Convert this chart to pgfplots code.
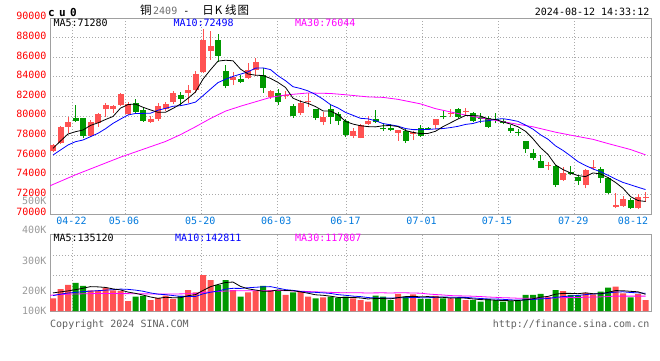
\documentclass[border=0pt]{standalone}
\usepackage{pgfplots}
\pgfplotsset{compat=1.18}
\usepackage{pgfplotstable}
\usepackage{fontspec}
\setmainfont{DejaVu Sans Mono}
\newfontfamily\cjk{Noto Sans CJK SC}
\newfontfamily\cufont[LetterSpace=40]{DejaVu Sans Mono}

\definecolor{cred}{RGB}{255,82,82}
\definecolor{cgreen}{RGB}{0,153,0}
\definecolor{pricered}{RGB}{255,0,0}
\definecolor{dateblue}{RGB}{0,120,220}
\definecolor{gridgray}{RGB}{170,170,170}
\definecolor{bordergray}{RGB}{160,160,160}
\definecolor{volgray}{RGB}{153,153,153}
\definecolor{txtgray}{RGB}{95,95,95}
\definecolor{ttlgray}{RGB}{110,110,110}
\definecolor{mablue}{RGB}{0,0,255}
\definecolor{mamag}{RGB}{255,0,255}

% i open high low close volume(K)
\pgfplotstableread{
i o h l c v
0 76460 77143 76327 77010 102
1 77276 78980 77143 78908 177
2 78908 79929 78235 79418 210
5 77990 79592 77827 79357 167
6 79255 80337 78908 80204 167
7 80684 81296 79929 81153 188
8 80714 81153 80276 81051 167
9 81153 82378 81020 82245 161
10 80200 81459 80102 81200 80
13 79418 80000 79300 79700 88
14 79694 81300 79500 81051 106
15 80745 81400 80500 81225 123
16 81400 82600 81250 82378 97
18 82310 83160 81300 82650 169
19 82650 84620 82310 84286 151
20 84520 88900 84418 87755 290
21 86660 88670 85715 87170 249
24 83670 84460 83160 84010 169
26 83910 85370 83775 84690 151
27 84690 85885 84110 85540 161
29 81970 82650 81735 82550 169
31 82040 82580 81735 82140 129
33 80340 81630 80100 81290 156
34 81400 82310 80950 81530 115
36 79420 80370 79080 79930 110
40 77990 78745 77720 78470 102
41 77790 79180 77720 79080 88
42 79180 80000 79080 79490 75
46 78300 78600 77480 78570 138
48 78160 78500 77550 78400 134
51 79080 79700 78640 79660 121
53 80240 80680 79865 80340 102
55 80410 80780 80000 80510 88
66 74900 75340 74490 75000 113
68 73470 74760 73400 74220 161
71 72960 74590 72620 74490 147
72 74660 75510 74490 74830 134
75 70750 72170 70580 70920 197
76 70820 71840 70750 71500 142
78 70580 72000 70500 71700 138
79 71600 72275 71250 71700 88
}\redtab

\pgfplotstableread{
i o h l c v
3 79765 81122 79418 79520 226
4 79765 79796 77724 77990 202
11 81296 81704 80337 80439 115
12 80612 80816 79418 79520 121
17 82143 82480 81050 81735 121
22 87755 88340 85540 86150 210
23 84590 85200 82830 83090 249
25 83775 84180 83330 83500 115
28 84180 84930 82380 82900 202
30 82310 82750 81120 81460 167
32 81020 81220 79830 80030 151
35 80680 80700 79590 79830 102
37 80680 81190 79180 79930 115
38 80170 80370 79080 79490 106
39 79490 79690 77890 78060 115
43 79660 80610 79320 79355 123
44 78800 79250 78500 78640 115
45 78800 79150 78440 78570 88
47 78470 78640 77280 77480 115
49 78745 79080 77890 77990 97
50 78770 78910 78570 78670 97
52 80030 80610 79660 79865 102
54 80710 80850 79765 79930 106
56 80340 80440 79420 79520 88
57 79865 80270 79250 79700 75
58 79765 79970 78800 78900 97
59 79690 80340 79250 79590 88
60 79490 79660 79150 79250 75
61 78800 79080 78300 78470 80
62 78400 78640 77960 78300 80
63 77450 77500 76260 76600 129
64 76190 76600 75510 75750 129
65 75410 76020 74660 74725 138
67 74900 75000 72790 72960 169
69 74320 74900 73980 74050 129
70 73810 73980 72960 73370 126
73 74560 74830 73200 73700 156
74 73700 73750 72000 72170 188
77 71430 71600 70500 70580 110
}\greentab

\pgfplotsset{
  sinabase/.style={
    scale only axis, width=601pt,
    xmin=-0.4, xmax=79.733,
    axis line style={draw=bordergray, line width=1pt},
    major tick length=0pt,
    scaled y ticks=false, scaled x ticks=false,
    xmajorgrids, ymajorgrids,
    grid style={draw=gridgray, line width=0.8pt, dash pattern=on 1pt off 2pt},
    xtick={2.6,9.6,19.77,29.9,39.13,49.27,59.33,69.5},
  },
}

\begin{document}
\begin{tikzpicture}[font=\fontsize{10}{12}\selectfont]
\path[use as bounding box] (0pt,0pt) rectangle (660pt,-360pt);

% ---------------- price panel ----------------
\begin{axis}[sinabase,
  at={(50pt,-214pt)}, anchor=south west, height=196pt,
  ymin=70000, ymax=90000,
  ytick={70000,72000,74000,76000,78000,80000,82000,84000,86000,88000,90000},
  yticklabels={70000,72000,74000,76000,78000,80000,82000,84000,86000,88000,90000},
  yticklabel style={text=pricered, anchor=east, inner sep=0pt, xshift=-3.3pt, yshift=1.7pt},
  xticklabels={04-22,05-06,05-20,06-03,06-17,07-01,07-15,07-29},
  xticklabel style={text=dateblue, anchor=north, inner sep=0pt, yshift=-3pt, xshift=-1pt},
  extra x ticks={77.47}, extra x tick labels={08-12},
  extra x tick style={grid=none},
]
% wicks
\addplot[draw=none, forget plot, error bars/.cd, y dir=plus, y explicit, error mark=none,
  error bar style={draw=cred, line width=1pt}]
  table[x=i, y=l, y error plus expr=\thisrow{h}-\thisrow{l}] {\redtab};
\addplot[draw=none, forget plot, error bars/.cd, y dir=plus, y explicit, error mark=none,
  error bar style={draw=cgreen, line width=1pt}]
  table[x=i, y=l, y error plus expr=\thisrow{h}-\thisrow{l}] {\greentab};
% bodies
\addplot[draw=none, forget plot, error bars/.cd, y dir=plus, y explicit, error mark=none,
  error bar style={draw=cred, line width=6pt}]
  table[x=i, y=o, y error plus expr=\thisrow{c}-\thisrow{o}] {\redtab};
\addplot[draw=none, forget plot, error bars/.cd, y dir=plus, y explicit, error mark=none,
  error bar style={draw=cgreen, line width=6pt}]
  table[x=i, y=c, y error plus expr=\thisrow{o}-\thisrow{c}] {\greentab};

% MA30
\addplot[mamag, line width=0.8pt] coordinates {
(-0.4,72880) (3,74000) (6,74900) (9,75800) (12,76600) (15,77400) (17,78100) (19,78900)
(21,79750) (23,80500) (25,81000) (27,81450) (29,81900) (31,82150) (34,82350) (37,82300)
(39,82170) (42,81950) (44,81900) (46,81700) (49,81240) (51,80750) (54,80250) (57,79800)
(59,79550) (62,79150) (64,78900) (67,78350) (69,78050) (72,77620) (74,77190) (77,76580) (79,76040)};
% MA10
\addplot[mablue, line width=0.8pt] coordinates {
(0,76020) (1,76530) (2,77040) (3,77380) (4,77550) (5,77890) (6,78235) (7,78700) (8,79250)
(9,79686) (10,80105) (11,80258) (12,80268) (13,80286) (14,80592) (15,80779) (16,80996)
(17,81054) (18,81214) (19,81418) (20,82074) (21,82747) (22,83410) (23,83749) (24,84045)
(25,84272) (26,84504) (27,84884) (28,84909) (29,84736) (30,84106) (31,83603) (32,82991)
(33,82811) (34,82563) (35,82196) (36,81720) (37,81159) (38,80818) (39,80369) (40,80070)
(41,79764) (42,79710) (43,79517) (44,79228) (45,79102) (46,78966) (47,78721) (48,78612)
(49,78605) (50,78625) (51,78683) (52,78720) (53,78819) (54,78948) (55,79142) (56,79237)
(57,79459) (58,79509) (59,79669) (60,79727) (61,79608) (62,79451) (63,79077) (64,78659)
(65,78081) (66,77629) (67,76955) (68,76487) (69,75933) (70,75345) (71,74947) (72,74600)
(73,74310) (74,73952) (75,73571) (76,73221) (77,72983) (78,72731) (79,72496)};
% MA5
\addplot[black, line width=0.8pt] coordinates {
(0,76700) (1,77450) (2,78160) (3,78400) (4,78569) (5,79039) (6,79298) (7,79645) (8,79951)
(9,80802) (10,81171) (11,81218) (12,80891) (13,80621) (14,80382) (15,80387) (16,80775)
(17,81218) (18,81808) (19,82455) (20,83761) (21,84719) (22,85602) (23,85690) (24,85635)
(25,84784) (26,84288) (27,84166) (28,84128) (29,83836) (30,83428) (31,82918) (32,81816)
(33,81494) (34,81290) (35,80964) (36,80522) (37,80502) (38,80142) (39,79448) (40,79176)
(41,79006) (42,78918) (43,78891) (44,79007) (45,79027) (46,78925) (47,78523) (48,78332)
(49,78202) (50,78222) (51,78440) (52,78917) (53,79305) (54,79693) (55,80061) (56,80033)
(57,80000) (58,79712) (59,79644) (60,79392) (61,79182) (62,78902) (63,78442) (64,77674)
(65,76769) (66,76075) (67,75007) (68,74531) (69,74191) (70,73920) (71,73818) (72,74192)
(73,74088) (74,73712) (75,73222) (76,72624) (77,71774) (78,71374) (79,71280)};
\end{axis}

% ---------------- volume panel ----------------
\begin{axis}[sinabase,
  at={(50pt,-311pt)}, anchor=south west, height=76.7pt,
  ymin=0, ymax=618,
  ytick={290.2,445.7}, yticklabels={},
  xticklabels={},
]
\addplot[ybar, bar width=6pt, bar shift=0pt, fill=cred, draw=none, forget plot]
  table[x=i, y=v] {\redtab};
\addplot[ybar, bar width=6pt, bar shift=0pt, fill=cgreen, draw=none, forget plot]
  table[x=i, y=v] {\greentab};
% MA30 vol
\addplot[mamag, line width=0.8pt] coordinates {
(-0.4,127) (2,136) (6,141) (10,140) (15,136) (19,140) (20,150) (22,158) (24,163) (27,163)
(29,163.4) (30,165.6) (31,164) (32,162) (33,159.7) (34,156.8) (35,154.6) (36,152.7)
(37,150.3) (38,148.3) (39,146.7) (40,147.5) (41,146.6) (42,145) (43,146.2) (44,146.5)
(45,145.3) (46,146.7) (47,146.5) (48,145.3) (49,143.5) (50,137.1) (51,132.8) (52,129.2)
(53,124.3) (54,122.2) (55,121.3) (56,119.2) (57,116.4) (58,112.9) (59,110.2) (60,107.1)
(61,105.5) (62,103.1) (63,102.2) (64,102.7) (65,103.9) (66,104) (67,105.8) (68,107.6)
(69,108.1) (70,108.9) (71,110.8) (72,112.8) (73,113.9) (74,116.3) (75,120) (76,120.1)
(77,119.9) (78,120.1) (79,119.8)};
% MA10 vol
\addplot[mablue, line width=0.8pt] coordinates {
(0,124) (1,136) (2,145) (3,150) (4,156) (5,160) (6,164) (7,168) (8,172) (9,176.7)
(10,174.5) (11,168.3) (12,159.4) (13,145.6) (14,136) (15,131.6) (16,124.6) (17,117.9)
(18,118.1) (19,117.1) (20,138.1) (21,151.5) (22,160.4) (23,176.5) (24,182.8) (25,182)
(26,187.4) (27,191.4) (28,194.7) (29,196.5) (30,184.2) (31,172.2) (32,166.3) (33,157)
(34,151.6) (35,150.3) (36,146.2) (37,141.6) (38,132) (39,126.6) (40,120.1) (41,116)
(42,108.4) (43,105.1) (44,105.1) (45,103.7) (46,106.5) (47,106.5) (48,109.3) (49,107.5)
(50,107) (51,110.3) (52,113) (53,110.9) (54,110) (55,110) (56,105) (57,101) (58,97.3)
(59,96.4) (60,94.2) (61,90.1) (62,87.9) (63,90.6) (64,92.9) (65,97.9) (66,100.4)
(67,109.8) (68,116.2) (69,120.3) (70,125.4) (71,132.1) (72,137.5) (73,140.2) (74,146.1)
(75,152) (76,154.9) (77,149) (78,146.7) (79,142.6)};
% MA5 vol
\addplot[black, line width=0.8pt] coordinates {
(0,146) (1,154) (2,162) (3,172) (4,183.4) (5,196.4) (6,194.4) (7,190) (8,178.2) (9,170)
(10,152.6) (11,142.2) (12,128.8) (13,113) (14,102) (15,110.6) (16,107) (17,107) (18,123.2)
(19,132.2) (20,165.6) (21,196) (22,213.8) (23,229.8) (24,233.4) (25,198.4) (26,178.8)
(27,169) (28,159.6) (29,159.6) (30,170) (31,165.6) (32,163.6) (33,154.4) (34,143.6)
(35,130.6) (36,126.8) (37,119.6) (38,109.6) (39,109.6) (40,109.6) (41,105.2) (42,97.2)
(43,100.6) (44,100.6) (45,97.8) (46,107.8) (47,115.8) (48,118) (49,114.4) (50,116.2)
(51,112.8) (52,110.2) (53,103.8) (54,105.6) (55,103.8) (56,97.2) (57,91.8) (58,90.8)
(59,87.2) (60,84.6) (61,83) (62,84) (63,90.4) (64,98.6) (65,111.2) (66,117.8) (67,135.6)
(68,142) (69,142) (70,139.6) (71,146.4) (72,139.4) (73,138.4) (74,150.2) (75,164.4)
(76,163.4) (77,158.6) (78,155) (79,135)};
\end{axis}

% ---------------- texts ----------------
\node[anchor=base west, inner sep=0pt] at (48pt,-16pt) {\cufont\bfseries\fontsize{11}{13}\selectfont cu0};
\node[anchor=base west, inner sep=0pt] at (140pt,-14.5pt)
  {{\cjk\fontsize{11.5}{13}\selectfont 铜}\hspace{1.5pt}{\color{ttlgray}2409}\hspace{6pt}-\hspace{13pt}{\cjk\fontsize{11.5}{13}\selectfont 日\hspace{1pt}K\hspace{3pt}线\hspace{1pt}图}};
\node[anchor=base east, inner sep=0pt] at (649.5pt,-15pt) {2024-08-12 14:33:12};

\node[anchor=base west, inner sep=0pt] at (53.3pt,-26.7pt) {MA5:71280};
\node[anchor=base west, inner sep=0pt, text=mablue] at (173.3pt,-26.7pt) {MA10:72498};
\node[anchor=base west, inner sep=0pt, text=mamag] at (295pt,-26.7pt) {MA30:76044};

\node[anchor=base west, inner sep=0pt] at (53.3pt,-241.7pt) {MA5:135120};
\node[anchor=base west, inner sep=0pt, text=mablue] at (175pt,-241.7pt) {MA10:142811};
\node[anchor=base west, inner sep=0pt, text=mamag] at (295pt,-241.7pt) {MA30:117807};

\node[anchor=east, inner sep=0pt, text=volgray] at (46.5pt,-201.3pt) {500K};
\node[anchor=east, inner sep=0pt, text=volgray] at (46.5pt,-230pt) {400K};
\node[anchor=east, inner sep=0pt, text=volgray] at (46.5pt,-260.5pt) {300K};
\node[anchor=east, inner sep=0pt, text=volgray] at (46.5pt,-291pt) {200K};
\node[anchor=east, inner sep=0pt, text=volgray] at (46.5pt,-311.2pt) {100K};

\node[anchor=base west, inner sep=0pt, text=txtgray] at (50pt,-327pt) {Copyright 2024 SINA.COM};
\node[anchor=base east, inner sep=0pt, text=txtgray] at (649.5pt,-327pt) {http://finance.sina.com.cn};
\end{tikzpicture}
\end{document}
